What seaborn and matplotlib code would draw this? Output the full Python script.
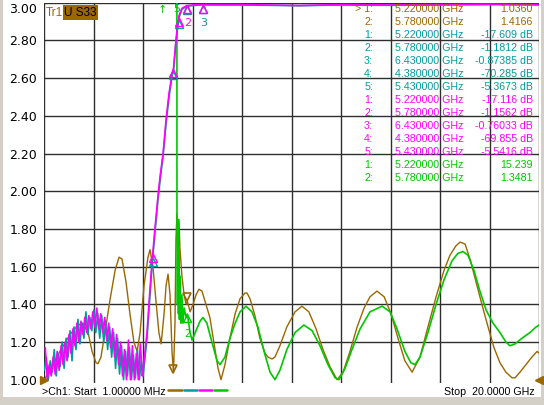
import numpy as np
import pandas as pd
import matplotlib
matplotlib.use('Agg')
import matplotlib.pyplot as plt
import seaborn as sns
from matplotlib.patches import Rectangle
from matplotlib.lines import Line2D
from matplotlib.transforms import offset_copy

sns.set_style('white')
plt.rcParams['font.family'] = ['DejaVu Sans']

BROWN = '#9a6700'
TEAL = '#009c9c'
MAGENTA = '#ff00ff'
GREEN = '#00c800'
GRIDC = '#2e2e2e'

# Tr1 (S33, brown) - frequency in GHz, display value
tr1_freq = [0.00, 0.23, 0.63, 1.04, 1.36, 1.56, 1.77, 1.93, 2.09, 2.17, 2.29, 2.45, 2.65, 2.86,
            3.02, 3.14, 3.30, 3.46, 3.62, 3.75, 3.87, 4.03, 4.19, 4.27, 4.39, 4.51, 4.63, 4.72,
            4.84, 4.92, 5.00, 5.08, 5.16, 5.22, 5.28, 5.32, 5.36, 5.40, 5.44, 5.48, 5.56, 5.65,
            5.73, 5.78, 5.89, 6.01, 6.13, 6.25, 6.37, 6.53, 6.69, 6.85, 7.02, 7.14, 7.30, 7.50,
            7.71, 7.91, 8.11, 8.19, 8.31, 8.51, 8.71, 8.92, 9.04, 9.20, 9.32, 9.52, 9.80, 10.13,
            10.41, 10.69, 10.98, 11.26, 11.54, 11.83, 12.07, 12.35, 12.64, 12.92, 13.16, 13.44,
            13.73, 14.01, 14.29, 14.57, 14.86, 15.18, 15.50, 15.83, 16.15, 16.39, 16.63, 16.80,
            17.00, 17.20, 17.44, 17.68, 17.93, 18.17, 18.41, 18.65, 18.90, 19.02, 19.22, 19.46,
            19.70, 19.91, 20.00]
tr1_val = [1.00, 1.05, 1.15, 1.24, 1.29, 1.30, 1.25, 1.15, 1.09, 1.085, 1.12, 1.25, 1.42, 1.58,
           1.65, 1.64, 1.52, 1.35, 1.20, 1.15, 1.25, 1.50, 1.65, 1.69, 1.60, 1.42, 1.25, 1.19,
           1.35, 1.50, 1.56, 1.45, 1.15, 1.036, 1.30, 1.75, 1.88, 1.60, 1.85, 1.70, 1.55, 1.45,
           1.40, 1.4166, 1.36, 1.40, 1.45, 1.48, 1.47, 1.40, 1.33, 1.20, 1.06, 1.00, 1.08, 1.22,
           1.35, 1.43, 1.46, 1.46, 1.43, 1.34, 1.22, 1.14, 1.12, 1.11, 1.12, 1.18, 1.28, 1.36,
           1.39, 1.36, 1.27, 1.16, 1.07, 1.00, 1.04, 1.15, 1.28, 1.38, 1.44, 1.47,
           1.44, 1.35, 1.22, 1.10, 1.04, 1.12, 1.28, 1.44, 1.58, 1.66, 1.71, 1.73,
           1.72, 1.64, 1.52, 1.40, 1.28, 1.17, 1.09, 1.04, 1.01, 1.01, 1.04, 1.08,
           1.12, 1.15, 1.14]

# Tr4 (green) - off scale (above 3.00) below ~5.35 GHz
tr4_freq = [0.00, 5.22, 5.34, 5.36, 5.38, 5.40, 5.42, 5.44, 5.46, 5.48, 5.52, 5.56, 5.60, 5.65,
            5.73, 5.78, 5.89, 5.97, 6.13, 6.29, 6.41, 6.57, 6.77, 6.98, 7.10, 7.30, 7.50, 7.71,
            7.91, 8.15, 8.39, 8.63, 8.88, 9.12, 9.32, 9.52, 9.80, 10.13, 10.49, 10.82, 11.14,
            11.46, 11.75, 11.91, 12.15, 12.43, 12.76, 13.16, 13.65, 13.97, 14.25, 14.57, 14.81,
            14.98, 15.18, 15.50, 15.83, 16.15, 16.47, 16.71, 16.92, 17.12, 17.36, 17.60, 17.85,
            18.13, 18.41, 18.65, 18.81, 19.02, 19.30, 19.62, 19.87, 20.00]
tr4_val = [15.2, 15.239, 15.0, 1.90, 1.40, 1.85, 1.35, 1.70, 1.32, 1.55, 1.30, 1.45, 1.30, 1.38,
           1.33, 1.3481, 1.25, 1.21, 1.26, 1.31, 1.33, 1.30, 1.20, 1.10, 1.08, 1.12, 1.22, 1.30,
           1.36, 1.39, 1.36, 1.28, 1.15, 1.04, 1.00, 1.05, 1.16, 1.25, 1.29, 1.26, 1.18,
           1.08, 1.01, 1.00, 1.06, 1.16, 1.27, 1.36, 1.39, 1.36, 1.27, 1.15, 1.09,
           1.08, 1.12, 1.25, 1.40, 1.53, 1.63, 1.67, 1.68, 1.66, 1.58, 1.47, 1.37,
           1.30, 1.25, 1.20, 1.18, 1.19, 1.22, 1.25, 1.28, 1.29]

# Tr2 (teal) and Tr3 (magenta): noisy low band, then the steep rise
low_freq = [0.00, 0.08, 0.16, 0.24, 0.32, 0.40, 0.48, 0.56, 0.64, 0.72,
            0.80, 0.88, 0.96, 1.04, 1.12, 1.20, 1.28, 1.36, 1.44, 1.52,
            1.60, 1.68, 1.76, 1.84, 1.92, 2.00, 2.08, 2.16, 2.24, 2.32,
            2.40, 2.48, 2.56, 2.64, 2.72, 2.80, 2.88, 2.96, 3.04, 3.12,
            3.20, 3.28, 3.36, 3.44, 3.52, 3.60, 3.68, 3.76, 3.84, 3.92]
tr2_low = [1.05, 1.12, 1.00, 1.10, 1.04, 1.16, 1.02, 1.14, 1.07, 1.20,
           1.06, 1.22, 1.12, 1.26, 1.10, 1.28, 1.16, 1.32, 1.19, 1.30,
           1.22, 1.36, 1.24, 1.33, 1.26, 1.37, 1.25, 1.35, 1.22, 1.34,
           1.20, 1.31, 1.16, 1.28, 1.12, 1.25, 1.06, 1.22, 1.03, 1.18,
           1.00, 1.15, 1.02, 1.17, 1.00, 1.13, 1.01, 1.16, 1.00, 1.10]
tr3_low = [1.17, 1.00, 1.08, 1.02, 1.12, 1.03, 1.15, 1.05, 1.18, 1.08,
           1.20, 1.10, 1.24, 1.14, 1.27, 1.18, 1.30, 1.20, 1.31, 1.24,
           1.33, 1.25, 1.34, 1.27, 1.36, 1.28, 1.38, 1.27, 1.35, 1.25,
           1.33, 1.21, 1.30, 1.17, 1.27, 1.12, 1.24, 1.08, 1.20, 1.02,
           1.16, 1.00, 1.21, 1.00, 1.18, 1.00, 1.14, 1.00, 1.19, 1.02]
rise_freq = [3.99, 4.07, 4.15, 4.27, 4.35, 4.47, 4.59, 4.68, 4.80, 4.92, 5.04, 5.16, 5.22,
             5.32, 5.36, 5.44, 5.56, 5.76, 6.29, 8.00, 10.30, 12.00, 14.00, 16.00, 18.00, 20.00]
tr2_rise = [1.02, 1.12, 1.22, 1.45, 1.60, 1.78, 1.95, 2.06, 2.19, 2.36, 2.50, 2.61, 2.64,
            2.79, 2.84, 2.92, 2.965, 2.982, 2.988, 2.988, 2.984, 2.988, 2.986, 2.988, 2.99, 2.988]
tr3_rise = [1.05, 1.15, 1.25, 1.48, 1.62, 1.80, 1.97, 2.08, 2.20, 2.38, 2.52, 2.62, 2.65,
            2.80, 2.85, 2.93, 2.97, 2.985, 2.99, 2.99, 2.985, 2.99, 2.988, 2.99, 2.992, 2.99]

# markers (GHz) and their readouts
mk12_freq = [5.22, 5.78]
mk_dB_freq = [5.22, 5.78, 6.43, 4.38, 5.43]
tr1_read = [1.0360, 1.4166]
tr2_read = [-17.609, -1.1812, -0.87385, -70.285, -5.3673]
tr3_read = [-17.116, -1.1562, -0.76033, -69.855, -5.5416]
tr4_read = [15.239, 1.3481]

W, H = 544, 405
fig = plt.figure(figsize=(W / 100, H / 100), dpi=100)
fig.patch.set_facecolor('#d4d0c8')
fig.add_artist(Rectangle((3 / W, 1 - 397 / H), 538 / W, 397 / H, transform=fig.transFigure,
                         facecolor='white', edgecolor='none', zorder=-5))

def fx(px):
    return px / W

def fy(py):
    return 1 - py / H

ax = fig.add_axes([fx(44.3), fy(383), 495 / W, (383 - 2.7) / H])
ax.set_facecolor('none')

tr1 = pd.DataFrame({'f': tr1_freq, 'v': tr1_val})
tr4 = pd.DataFrame({'f': tr4_freq, 'v': tr4_val})
tr2 = pd.DataFrame({'f': low_freq + rise_freq, 'v': tr2_low + tr2_rise})
tr3 = pd.DataFrame({'f': [f + 0.04 for f in low_freq] + rise_freq, 'v': tr3_low + tr3_rise})

sns.lineplot(data=tr1, x='f', y='v', ax=ax, color=BROWN, lw=1.0, estimator=None, sort=False, zorder=3)
sns.lineplot(data=tr4, x='f', y='v', ax=ax, color=GREEN, lw=1.2, estimator=None, sort=False, zorder=3.5)
sns.lineplot(data=tr2, x='f', y='v', ax=ax, color=TEAL, lw=1.2, estimator=None, sort=False, zorder=4)
sns.lineplot(data=tr3, x='f', y='v', ax=ax, color=MAGENTA, lw=1.2, estimator=None, sort=False, zorder=5)

ax.set_xlim(0, 20)
ax.set_ylim(0.9825, 3.0)
ax.set_xticks(np.arange(0, 21, 2))
ax.set_yticks(np.arange(1.0, 3.01, 0.2))
ax.set_xticklabels([])
ax.set_yticklabels([f'{t:.2f}' for t in np.arange(1.0, 3.01, 0.2)])
ax.set_xlabel('')
ax.set_ylabel('')
ax.tick_params(axis='both', length=0)
ax.tick_params(axis='y', pad=5, labelsize=9, labelcolor='black')
ax.grid(True, color=GRIDC, lw=1.0)
ax.set_axisbelow(True)
ax.yaxis.get_gridlines()[0].set_visible(False)
ax.get_yticklabels()[-1].set_verticalalignment('top')
for s in ax.spines.values():
    s.set_visible(False)

# markers on the traces
down = offset_copy(ax.transData, fig=fig, x=0, y=4, units='dots')
up = offset_copy(ax.transData, fig=fig, x=0, y=-4, units='dots')
ax.plot(mk12_freq, np.interp(mk12_freq, tr1_freq, tr1_val), 'v', ms=6, mfc='none', mec=BROWN,
        mew=1.2, transform=down, clip_on=False, zorder=6)
ax.plot(mk12_freq[1:], np.interp(mk12_freq[1:], tr4_freq, tr4_val), '^', ms=6, mfc='none',
        mec=GREEN, mew=1.0, transform=up, clip_on=False, zorder=6)
ax.annotate('2', (mk12_freq[1], np.interp(mk12_freq[1], tr4_freq, tr4_val)), xytext=(0, -14),
            textcoords='offset points', color=GREEN, fontsize=7, ha='center', va='center')
ax.annotate('\u2191', (4.76, 3.0), xytext=(0, -5), textcoords='offset points', color=GREEN,
            fontsize=8, ha='center', va='center', annotation_clip=False)
for freqs, trf, trv, col in [(mk_dB_freq, tr2['f'], tr2['v'], TEAL),
                             (mk_dB_freq, tr3['f'], tr3['v'], MAGENTA)]:
    yv = np.interp(freqs, trf, trv)
    ax.plot(freqs, yv, '^', ms=6, mfc='none', mec=col, mew=1.0, transform=up,
            clip_on=False, zorder=7)
ax.annotate('2', (5.80, 2.99), xytext=(0, -13), textcoords='offset points', color=MAGENTA,
            fontsize=8, ha='center', va='center')
ax.annotate('3', (6.43, 2.99), xytext=(0, -13), textcoords='offset points', color=TEAL,
            fontsize=8, ha='center', va='center')
ax.annotate('5', (5.36, 2.99), xytext=(0, -3), textcoords='offset points', color=TEAL,
            fontsize=8, ha='center', va='center', annotation_clip=False)

# reference level arrows
ax.plot([0], [1.0], '>', ms=6, color=BROWN, clip_on=False, zorder=8)
ax.plot([20], [1.0], '<', ms=6, color=BROWN, clip_on=False, zorder=8)

# header
TF = ['Liberation Sans', 'DejaVu Sans']
fig.text(fx(46), fy(12.5), 'Tr1', color=BROWN, fontsize=8.5, family=TF, va='center')
fig.text(fx(64), fy(12.5), 'U S33', color='black', fontsize=8.5, family=TF, va='center',
         bbox=dict(boxstyle='square,pad=0.12', facecolor=BROWN, edgecolor='none'))

# marker table
rows = []
for i, (f, v) in enumerate(zip(mk12_freq, tr1_read)):
    rows.append(((('> ' if i == 0 else '') + f'{i + 1}:'), f, f'{v:#.5g}', BROWN))
for i, (f, v) in enumerate(zip(mk_dB_freq, tr2_read)):
    rows.append((f'{i + 1}:', f, f'{v:#.5g} dB', TEAL))
for i, (f, v) in enumerate(zip(mk_dB_freq, tr3_read)):
    rows.append((f'{i + 1}:', f, f'{v:#.5g} dB', MAGENTA))
for i, (f, v) in enumerate(zip(mk12_freq, tr4_read)):
    rows.append((f'{i + 1}:', f, f'{v:#.5g}', GREEN))
for i, (lab, f, val, col) in enumerate(rows):
    y = fy(9.3 + 12.95 * i)
    fig.text(fx(373), y, lab, color=col, fontsize=7.7, family=TF, ha='right', va='center')
    fig.text(fx(395), y, f'{f:.6f} GHz', color=col, fontsize=7.7, family=TF, ha='left', va='center')
    fig.text(fx(533), y, val, color=col, fontsize=7.7, family=TF, ha='right', va='center')

# footer
fig.text(fx(42), fy(392), '>Ch1: Start  1.00000 MHz', color='black', fontsize=7.7, family=TF,
         ha='left', va='center')
fig.text(fx(535), fy(392), 'Stop  20.0000 GHz', color='black', fontsize=7.7, family=TF,
         ha='right', va='center')
for (x0, x1), col in zip([(168, 182), (184, 197), (199, 212), (214, 227)],
                         [BROWN, TEAL, MAGENTA, GREEN]):
    fig.add_artist(Line2D([fx(x0), fx(x1)], [fy(390), fy(390)], color=col, lw=1.8,
                          transform=fig.transFigure))

fig.savefig('out.png', dpi=100, facecolor=fig.get_facecolor())
